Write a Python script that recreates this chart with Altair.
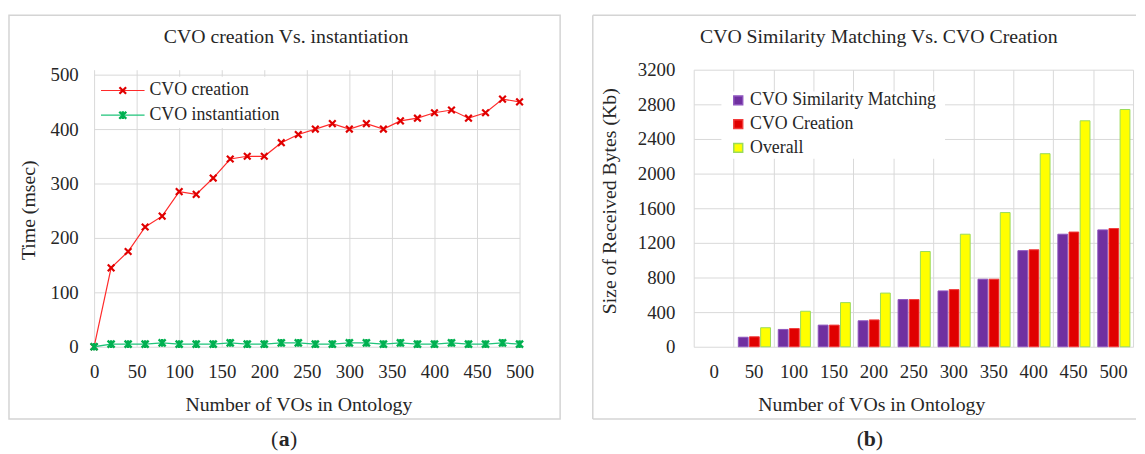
import altair as alt
import pandas as pd

FONT = "Liberation Serif, Times New Roman, serif"
TEXT = "#262626"
GRID = "#D9D9D9"
FRAME = "#D4D4D4"

# ---------------- panel (a): CVO creation vs. instantiation ----------------
vos_a = [0, 20, 40, 60, 80, 100, 120, 140, 160, 180, 200, 220, 240, 260, 280,
         300, 320, 340, 360, 380, 400, 420, 440, 460, 480, 500]
creation_ms = [0, 145, 175, 220, 240, 285, 280, 310, 345, 350, 350, 375, 390, 400, 410,
               400, 410, 400, 415, 420, 430, 435, 420, 430, 455, 450]
instantiation_ms = [0, 5, 5, 5, 7, 5, 5, 5, 7, 5, 5, 7, 7, 5, 5,
                    7, 7, 5, 7, 5, 5, 7, 5, 5, 7, 5]
ticks_a_x = [0, 50, 100, 150, 200, 250, 300, 350, 400, 450, 500]
ticks_a_y = [0, 50, 100, 150, 200, 250, 300, 350, 400, 450, 500]
series_a = ["CVO creation", "CVO instantiation"]

# ---------------- panel (b): similarity matching vs. creation ----------------
vo_groups = ["0", "50", "100", "150", "200", "250", "300", "350", "400", "450", "500"]
series_b = ["CVO Similarity Matching", "CVO Creation", "Overall"]
similarity_kb = [0, 110, 200, 250, 300, 545, 645, 780, 1110, 1300, 1350]
creation_kb = [0, 115, 210, 250, 310, 545, 660, 780, 1120, 1325, 1365]
overall_kb = [0, 220, 410, 510, 620, 1100, 1300, 1550, 2230, 2610, 2740]
ticks_b_y = [0, 400, 800, 1200, 1600, 2000, 2400, 2800, 3200]
fill_b = ["#7030A0", "#E00000", "#FFFF00"]
stroke_b = ["#8E55BE", "#F23A3A", "#9ADB5A"]

X_PATH = "M-1,-1L1,1M-1,1L1,-1"
STAR_PATH = "M-1,-1L1,1M-1,1L1,-1M0,-1.1V1.1"

W_A, W_B, H = 430, 444, 280
Y_TOP_A = 500 * H / 275  # 500 gridline sits 5px under the top of panel (b)
B_SHIFT = 604            # x of panel (b) plot origin relative to panel (a) plot origin

one = pd.DataFrame({"k": [0]})


def label(text, x, y, size=18, align="left", angle=0, weight="normal", baseline="middle"):
    kw = dict(text=text, font=FONT, fontSize=size, color=TEXT, align=align,
              baseline=baseline, fontWeight=weight)
    if angle:
        kw["angle"] = angle
    return alt.Chart(one).mark_text(**kw).encode(x=alt.value(x), y=alt.value(y))


def caption(letter, cx, y):
    return [
        label("(", cx - 6, y, size=22, align="right"),
        label(letter, cx, y, size=22, align="center", weight="bold"),
        label(")", cx + 6, y, size=22, align="left"),
    ]


def axis(**kw):
    return alt.Axis(grid=True, labelFont=FONT, labelFontSize=19, labelColor=TEXT,
                    title=None, **kw)


# ---- panel (a)
df_a = pd.DataFrame({"vo": vos_a, "creation": creation_ms, "inst": instantiation_ms})
xa = alt.X("vo:Q", scale=alt.Scale(domain=[0, 500], nice=False),
           axis=axis(values=ticks_a_x, labelPadding=16))
base_a = alt.Chart(df_a).encode(x=xa)
ya_scale = alt.Scale(domain=[0, Y_TOP_A], nice=False)
ya_axis = axis(values=ticks_a_y, labelPadding=16)

red_line = base_a.mark_line(color="#FF2A2A", strokeWidth=1.2).encode(
    y=alt.Y("creation:Q", scale=ya_scale, axis=ya_axis))
red_pts = base_a.mark_point(shape=X_PATH, size=45, filled=False, strokeWidth=2.2,
                            color="#E00000", opacity=1).encode(y=alt.Y("creation:Q"))
green_line = base_a.mark_line(color="#1FC47A", strokeWidth=1.3).encode(y=alt.Y("inst:Q"))
green_pts = base_a.mark_point(shape=STAR_PATH, size=50, filled=False, strokeWidth=2.4,
                              color="#00B050", opacity=1).encode(y=alt.Y("inst:Q"))

leg_box_a = alt.Chart(one).mark_rect(color="white").encode(
    x=alt.value(53), x2=alt.value(191), y=alt.value(7), y2=alt.value(59))
legend_a = [
    alt.Chart(one).mark_rule(color="#FF2A2A", strokeWidth=1.2).encode(
        x=alt.value(7), x2=alt.value(51), y=alt.value(21)),
    alt.Chart(one).mark_point(shape=X_PATH, size=45, filled=False, strokeWidth=2.2,
                              color="#E00000", opacity=1).encode(x=alt.value(29), y=alt.value(21)),
    label(series_a[0], 56, 21),
    alt.Chart(one).mark_rule(color="#1FC47A", strokeWidth=1.3).encode(
        x=alt.value(7), x2=alt.value(51), y=alt.value(46)),
    alt.Chart(one).mark_point(shape=STAR_PATH, size=50, filled=False, strokeWidth=2.4,
                              color="#00B050", opacity=1).encode(x=alt.value(29), y=alt.value(46)),
    label(series_a[1], 56, 46),
]
frame_a = alt.Chart(one).mark_rect(fill="transparent", stroke=FRAME, strokeWidth=1.5).encode(
    x=alt.value(-86), x2=alt.value(471), y=alt.value(-55), y2=alt.value(353))

panel_a = alt.layer(
    leg_box_a, red_line, red_pts, green_line, green_pts, *legend_a,
    label("CVO creation Vs. instantiation", 194, -33, size=20, align="center"),
    label("Time (msec)", -66, 142, size=20, align="center", angle=270),
    label("Number of VOs in Ontology", 207, 339, size=20, align="center"),
    *caption("a", 192, 373),
    frame_a,
).properties(width=W_A, height=H)

# ---- panel (b)
rows = []
for g, s1, s2, s3 in zip(vo_groups, similarity_kb, creation_kb, overall_kb):
    for name, v in zip(series_b, (s1, s2, s3)):
        if v > 0:
            rows.append({"vo": g, "series": name, "kb": v})
df_b = pd.DataFrame(rows)

legend_b = alt.Legend(title=None, orient="none", legendX=B_SHIFT + 38, legendY=22,
                      symbolType="square", symbolSize=81, labelFont=FONT,
                      labelFontSize=18, labelColor=TEXT, labelOffset=3, labelLimit=400,
                      rowPadding=6, padding=0)

bars = alt.Chart(df_b).mark_bar(strokeWidth=1).encode(
    x=alt.X("vo:N", sort=vo_groups,
            scale=alt.Scale(domain=vo_groups, paddingInner=0, paddingOuter=0),
            axis=axis(tickBand="extent", labelAngle=0, labelPadding=16)),
    xOffset=alt.XOffset("series:N", sort=series_b,
                        scale=alt.Scale(domain=series_b, paddingInner=0.12, paddingOuter=0.35, align=0.6)),
    y=alt.Y("kb:Q", scale=alt.Scale(domain=[0, 3200], nice=False),
            axis=axis(values=ticks_b_y, format="d", labelPadding=19)),
    fill=alt.Fill("series:N", sort=series_b, scale=alt.Scale(domain=series_b, range=fill_b), legend=legend_b),
    stroke=alt.Stroke("series:N", sort=series_b, scale=alt.Scale(domain=series_b, range=stroke_b), legend=legend_b),
)
leg_box_b = alt.Chart(one).mark_rect(color="white").encode(
    x=alt.value(28), x2=alt.value(254), y=alt.value(22), y2=alt.value(90))
frame_b = [
    alt.Chart(one).mark_rule(color=FRAME, strokeWidth=1.5).encode(
        x=alt.value(-102), x2=alt.value(447), y=alt.value(-55)),
    alt.Chart(one).mark_rule(color=FRAME, strokeWidth=1.5).encode(
        x=alt.value(-102), x2=alt.value(447), y=alt.value(353)),
    alt.Chart(one).mark_rule(color=FRAME, strokeWidth=1.5).encode(
        x=alt.value(-102), y=alt.value(-55), y2=alt.value(353)),
]

panel_b = alt.layer(
    leg_box_b, bars,
    label("CVO Similarity  Matching Vs. CVO Creation", 187, -33, size=20, align="center"),
    label("Size of Received Bytes (Kb)", -85, 133, size=20, align="center", angle=270),
    label("Number of VOs in Ontology", 180, 339, size=20, align="center"),
    *caption("b", 178, 373),
    *frame_b,
).properties(width=W_B, height=H)

chart = alt.hconcat(panel_a, panel_b, spacing=31).properties(
    padding={"left": 0, "top": 4, "right": 0, "bottom": 0}
).configure_view(strokeWidth=0).configure_axis(
    labelFont=FONT, labelFontSize=19, labelColor=TEXT, gridColor=GRID, gridWidth=1,
    domain=False, ticks=False, labelOverlap=False, labelFlush=False
)

chart.save("out.html", embed_options={"renderer": "svg", "actions": False})
